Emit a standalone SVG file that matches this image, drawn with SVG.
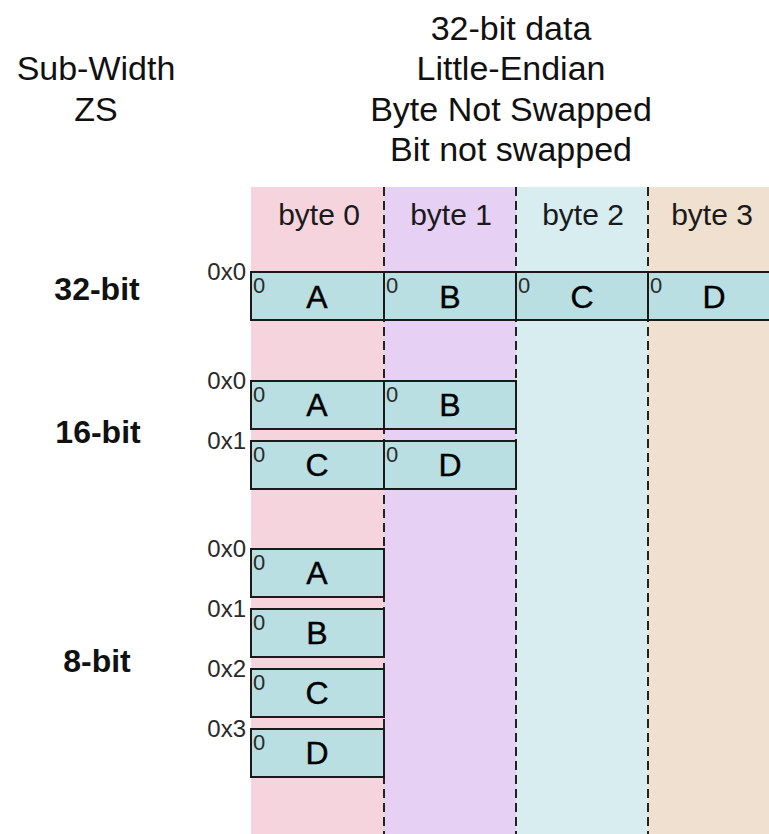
<svg xmlns="http://www.w3.org/2000/svg" width="769" height="834" viewBox="0 0 769 834">
  <style>
    .hdr { font-family: "Liberation Sans", Arial, sans-serif; font-size: 34px; fill: #111; text-anchor: middle; }
    .row { font-family: "Liberation Sans", Arial, sans-serif; font-size: 32px; font-weight: bold; fill: #111; text-anchor: middle; }
    .col { font-family: "Liberation Sans", Arial, sans-serif; font-size: 30px; fill: #1a1a1a; text-anchor: middle; }
    .addr { font-family: "Liberation Sans", Arial, sans-serif; font-size: 24px; fill: #2a2a2a; text-anchor: end; }
    .bit { font-family: "Liberation Sans", Arial, sans-serif; font-size: 22px; fill: #2a2a2a; }
    .val { font-family: "Liberation Sans", Arial, sans-serif; font-size: 32px; fill: #000; stroke: #000; stroke-width: 0.4; text-anchor: middle; }
    .cell { fill: #badfe3; stroke: #1a1a1a; stroke-width: 2; }
    .div { stroke: #222; stroke-width: 2; stroke-dasharray: 9 5; fill: none; }
  </style>

  <rect width="769" height="834" fill="#ffffff"/>

  <!-- byte lane backgrounds -->
  <g id="lanes">
    <rect x="251" y="187" width="133" height="647" fill="#f5d4de"/>
    <rect x="384" y="187" width="132" height="647" fill="#e6d0f4"/>
    <rect x="516" y="187" width="132" height="647" fill="#d8edf0"/>
    <rect x="648" y="187" width="121" height="647" fill="#efe0cf"/>
  </g>

  <!-- lane separators -->
  <g id="connectors">
    <line class="div" x1="384" y1="187" x2="384" y2="834"/>
    <line class="div" x1="516" y1="187" x2="516" y2="834"/>
    <line class="div" x1="648" y1="187" x2="648" y2="834"/>
  </g>

  <!-- headings -->
  <g id="title">
    <text class="hdr" x="511" y="40">32-bit data</text>
    <text class="hdr" x="511" y="80">Little-Endian</text>
    <text class="hdr" x="511" y="121">Byte Not Swapped</text>
    <text class="hdr" x="511" y="161">Bit not swapped</text>
  </g>
  <g id="subwidth-title">
    <text class="hdr" x="96" y="80">Sub-Width</text>
    <text class="hdr" x="96" y="121">ZS</text>
  </g>

  <g id="lane-labels">
    <text class="col" x="319" y="225">byte 0</text>
    <text class="col" x="451" y="225">byte 1</text>
    <text class="col" x="583" y="225">byte 2</text>
    <text class="col" x="712" y="225">byte 3</text>
  </g>

  <!-- 32-bit access -->
  <g id="row-32">
    <text class="row" x="97" y="300">32-bit</text>
    <text class="addr" x="246" y="280">0x0</text>
    <g id="w32-a">
      <rect class="cell" x="251" y="272" width="133" height="48"/>
      <text class="bit" x="253" y="293">0</text>
      <text class="val" x="317" y="308">A</text>
    </g>
    <g id="w32-b">
      <rect class="cell" x="384" y="272" width="132" height="48"/>
      <text class="bit" x="386" y="293">0</text>
      <text class="val" x="450" y="308">B</text>
    </g>
    <g id="w32-c">
      <rect class="cell" x="516" y="272" width="132" height="48"/>
      <text class="bit" x="518" y="293">0</text>
      <text class="val" x="582" y="308">C</text>
    </g>
    <g id="w32-d">
      <rect class="cell" x="648" y="272" width="133" height="48"/>
      <text class="bit" x="650" y="293">0</text>
      <text class="val" x="714" y="308">D</text>
    </g>
  </g>

  <!-- 16-bit access -->
  <g id="row-16">
    <text class="row" x="98" y="443">16-bit</text>
    <text class="addr" x="246" y="389">0x0</text>
    <text class="addr" x="246" y="449">0x1</text>
    <g id="h0-a">
      <rect class="cell" x="251" y="381" width="133" height="48"/>
      <text class="bit" x="253" y="402">0</text>
      <text class="val" x="317" y="416">A</text>
    </g>
    <g id="h0-b">
      <rect class="cell" x="384" y="381" width="132" height="48"/>
      <text class="bit" x="386" y="402">0</text>
      <text class="val" x="450" y="416">B</text>
    </g>
    <g id="h1-c">
      <rect class="cell" x="251" y="441" width="133" height="48"/>
      <text class="bit" x="253" y="462">0</text>
      <text class="val" x="317" y="476">C</text>
    </g>
    <g id="h1-d">
      <rect class="cell" x="384" y="441" width="132" height="48"/>
      <text class="bit" x="386" y="462">0</text>
      <text class="val" x="450" y="476">D</text>
    </g>
  </g>

  <!-- 8-bit access -->
  <g id="row-8">
    <text class="row" x="97" y="672">8-bit</text>
    <text class="addr" x="246" y="557">0x0</text>
    <text class="addr" x="246" y="617">0x1</text>
    <text class="addr" x="246" y="677">0x2</text>
    <text class="addr" x="246" y="737">0x3</text>
    <g id="b0-a">
      <rect class="cell" x="251" y="549" width="133" height="48"/>
      <text class="bit" x="253" y="570">0</text>
      <text class="val" x="317" y="584">A</text>
    </g>
    <g id="b1-b">
      <rect class="cell" x="251" y="609" width="133" height="48"/>
      <text class="bit" x="253" y="630">0</text>
      <text class="val" x="317" y="644">B</text>
    </g>
    <g id="b2-c">
      <rect class="cell" x="251" y="669" width="133" height="48"/>
      <text class="bit" x="253" y="690">0</text>
      <text class="val" x="317" y="704">C</text>
    </g>
    <g id="b3-d">
      <rect class="cell" x="251" y="729" width="133" height="48"/>
      <text class="bit" x="253" y="750">0</text>
      <text class="val" x="317" y="764">D</text>
    </g>
  </g>
</svg>
